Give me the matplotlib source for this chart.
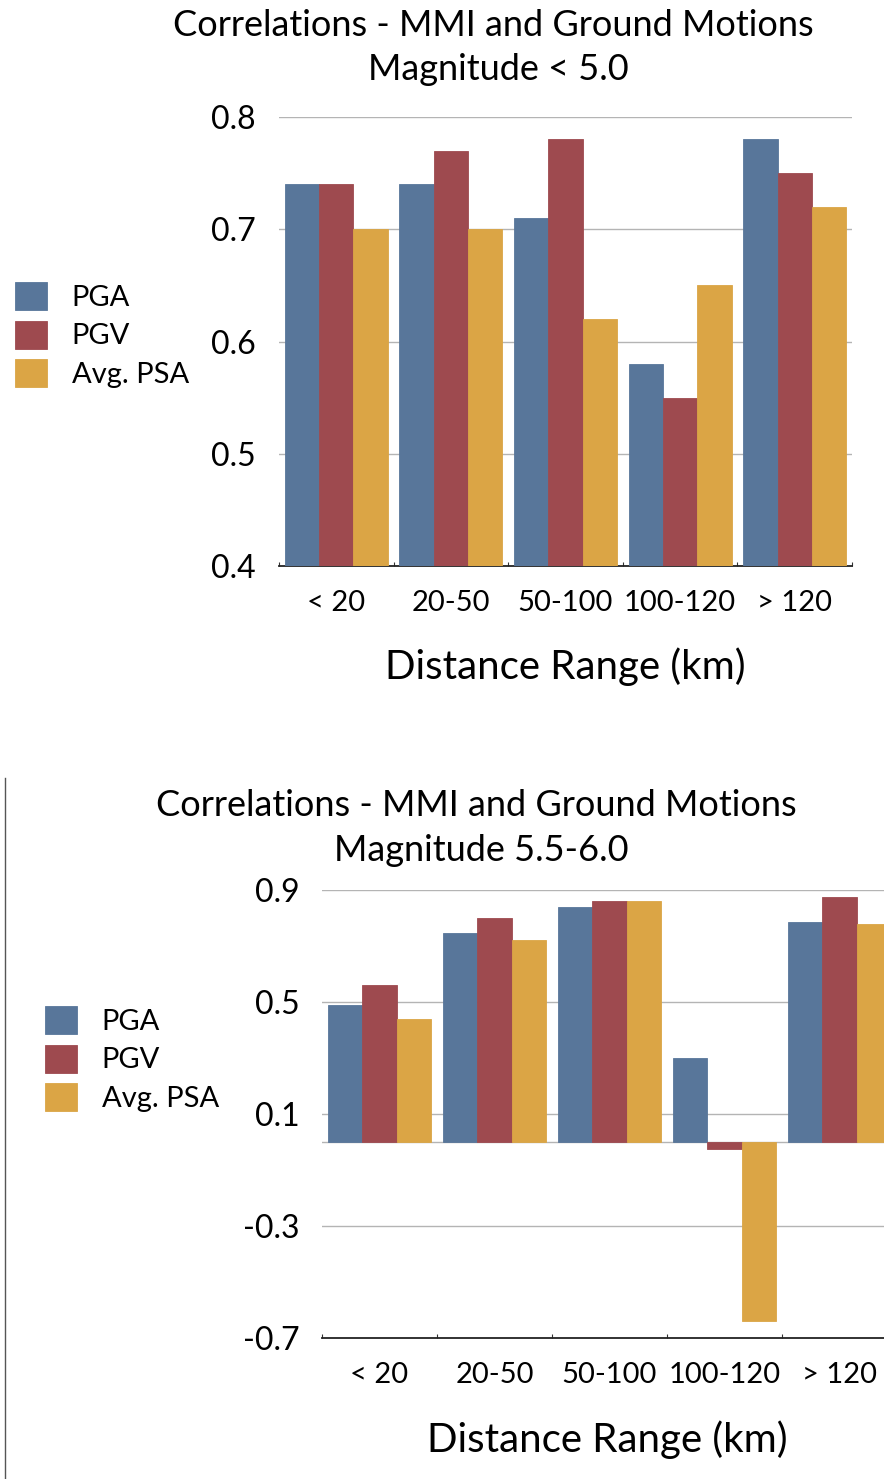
import matplotlib
matplotlib.use("Agg")
import matplotlib.pyplot as plt
from matplotlib.lines import Line2D
import numpy as np

plt.rcParams['font.family'] = ['Lato', 'DejaVu Sans']

categories = ['< 20', '20-50', '50-100', '100-120', '> 120']
series = ['PGA', 'PGV', 'Avg. PSA']
colors = ['#58769a', '#9e4a4f', '#dba545']

# Magnitude < 5.0
pga_low = [0.74, 0.74, 0.71, 0.58, 0.78]
pgv_low = [0.74, 0.77, 0.78, 0.55, 0.75]
psa_low = [0.70, 0.70, 0.62, 0.65, 0.72]

# Magnitude 5.5-6.0
pga_mid = [0.49, 0.745, 0.84, 0.30, 0.785]
pgv_mid = [0.56, 0.80, 0.86, -0.025, 0.875]
psa_mid = [0.44, 0.72, 0.86, -0.64, 0.78]

yticks_low = [0.4, 0.5, 0.6, 0.7, 0.8]
yticks_mid = [-0.7, -0.3, 0.1, 0.5, 0.9]

W, H = 884, 1479
fig = plt.figure(figsize=(W / 100, H / 100), dpi=100)


def draw(ax, vals, yticks, ylabel_pad, zero_line=False):
    x = np.arange(len(categories))
    w = 0.3
    for i, (v, c) in enumerate(zip(vals, colors)):
        ax.bar(x + (i - 1) * w, v, width=w, color=c, label=series[i],
               edgecolor=c, linewidth=0.6, zorder=3)
    ax.set_xlim(-0.5, len(categories) - 0.5)
    ax.set_ylim(yticks[0], yticks[-1])
    ax.set_yticks(yticks)
    ax.set_yticklabels([('%.1f' % t) for t in yticks])
    for t in yticks[1:]:
        ax.axhline(t, color='#b4b4b4', linewidth=1.0, zorder=1)
    if zero_line:
        ax.axhline(0, color='#b4b4b4', linewidth=1.0, zorder=2)
    ax.set_xticks(x)
    ax.set_xticklabels(categories)
    ax.set_xticks(np.arange(len(categories) + 1) - 0.5, minor=True)
    ax.tick_params(axis='x', which='major', length=0, pad=17, labelsize=21)
    ax.tick_params(axis='x', which='minor', length=3, direction='in',
                   color='#333333', width=0.8)
    ax.tick_params(axis='y', length=0, pad=ylabel_pad, labelsize=23)
    for s in ['left', 'right', 'top']:
        ax.spines[s].set_visible(False)
    ax.spines['bottom'].set_color('#222222')
    ax.spines['bottom'].set_linewidth(1.3)


def legend(ax, x0, yc):
    fig.legend(handles=ax.get_legend_handles_labels()[0], labels=series,
               loc='center left', bbox_to_anchor=(x0 / W, 1 - yc / H),
               frameon=False, fontsize=21, handlelength=1.1,
               handleheight=1.1, handletextpad=0.85, labelspacing=0.33,
               borderaxespad=0, borderpad=0)


# top chart
ax1 = fig.add_axes([279 / W, 1 - 566 / H, (852 - 279) / W, (566 - 117) / H])
draw(ax1, [pga_low, pgv_low, psa_low], yticks_low, 17)
fig.text(493 / W, 1 - 25 / H, 'Correlations - MMI and Ground Motions',
         ha='center', va='center', fontsize=26)
fig.text(498 / W, 1 - 70 / H, 'Magnitude < 5.0', ha='center', va='center',
         fontsize=26)
fig.text(565 / W, 1 - 667 / H, 'Distance Range (km)', ha='center',
         va='center', fontsize=29)
legend(ax1, 15, 335)

# bottom chart
ax2 = fig.add_axes([322 / W, 1 - 1338 / H, (897 - 322) / W, (1338 - 890) / H])
draw(ax2, [pga_mid, pgv_mid, psa_mid], yticks_mid, 16, zero_line=True)
fig.text(476 / W, 1 - 805 / H, 'Correlations - MMI and Ground Motions',
         ha='center', va='center', fontsize=26)
fig.text(481 / W, 1 - 851 / H, 'Magnitude 5.5-6.0', ha='center',
         va='center', fontsize=26)
fig.text(607 / W, 1 - 1440 / H, 'Distance Range (km)', ha='center',
         va='center', fontsize=29)
legend(ax2, 45, 1059)

# thin frame line on the left of the lower slide
fig.add_artist(Line2D([5 / W, 5 / W], [0, 1 - 778 / H], color='#555555',
                      linewidth=1.0, transform=fig.transFigure))

fig.savefig('out.png', dpi=100)
